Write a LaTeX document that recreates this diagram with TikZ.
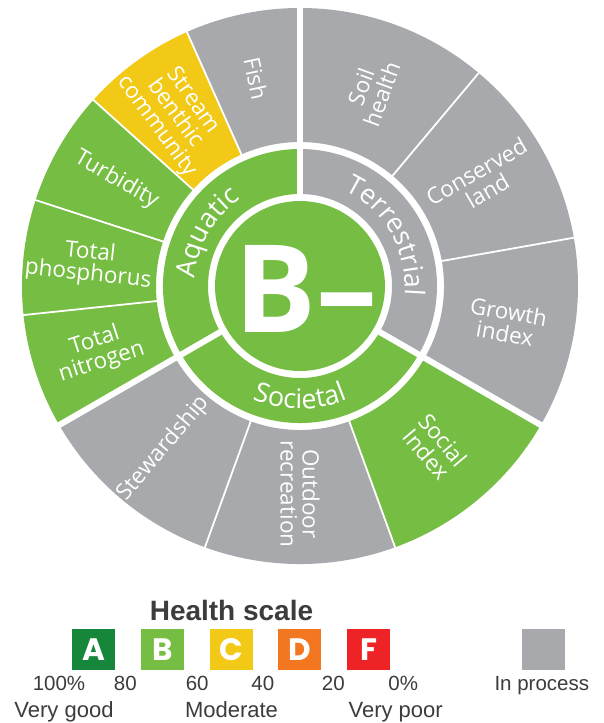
\documentclass[tikz,border=0pt]{standalone}
\usepackage{fontspec}
\usetikzlibrary{decorations.text}
\newfontfamily\wheelfont{Open Sans}
\newfontfamily\legendfont{Liberation Sans}
\newfontfamily\gradefont{Poppins}
\definecolor{leaf}{HTML}{76BE43}
\definecolor{stone}{HTML}{A7A9AC}
\definecolor{amber}{HTML}{F2C916}
\definecolor{forest}{HTML}{16873A}
\definecolor{ember}{HTML}{F37621}
\definecolor{alarm}{HTML}{EE2326}
\definecolor{ink}{HTML}{3C3C3C}
\newcommand{\ringpart}[5]{\fill[#1] (#2:#4) arc[start angle=#2,end angle=#3,radius=#4] -- (#3:#5) arc[start angle=#3,end angle=#2,radius=#5] -- cycle;}
\begin{document}
\begin{tikzpicture}[x=1pt,y=1pt,
    lbl/.style={text=white,font=\wheelfont\fontsize{22.5}{22}\selectfont,align=center,inner sep=0pt},
    gap/.style={white,line width=1.8pt},
    split/.style={white,line width=6pt},
    grade/.style={minimum width=43pt,minimum height=41pt,inner sep=0pt,text=white,font=\gradefont\bfseries\fontsize{31}{31}\selectfont},
    num/.style={text=ink,font=\legendfont\fontsize{20.5}{20.5}\selectfont,anchor=base,inner sep=0pt},
    word/.style={text=ink,font=\legendfont\fontsize{22}{22}\selectfont,anchor=base,inner sep=0pt}]
    \useasboundingbox (-300,-437) rectangle (303,286);
    \fill[white] (-300,-437) rectangle (303,286);
    \ringpart{stone}{90}{114}{144}{278}
    \ringpart{amber}{114}{138}{144}{278}
    \ringpart{leaf}{138}{210}{144}{278}
    \ringpart{stone}{-30}{90}{144}{278}
    \ringpart{stone}{-150}{-70}{144}{278}
    \ringpart{leaf}{-70}{-30}{144}{278}
    \ringpart{leaf}{90}{210}{92}{137}
    \ringpart{stone}{-30}{90}{92}{137}
    \ringpart{leaf}{-150}{-30}{92}{137}
    \fill[leaf] (0,0) circle[radius=85];
    \foreach \a in {114,138,162,186,50,10,-70,-110}
        \draw[gap] (\a:143) -- (\a:279);
    \foreach \a in {90,210,-30}
        \draw[split] (\a:88) -- (\a:280);
    \node[lbl,rotate=-78] (fish) at (102:212) {Fish};
    \node[lbl,rotate=-54] (benthic) at (126:213) {Stream\\benthic\\community};
    \node[lbl,rotate=-30] (turbidity) at (150:212) {Turbidity};
    \node[lbl,rotate=-6] (phosphorus) at (174:212) {Total\\phosphorus};
    \node[lbl,rotate=18] (nitrogen) at (198:212) {Total\\nitrogen};
    \node[lbl,rotate=70] (soil) at (70:208) {Soil\\health};
    \node[lbl,rotate=30] (conserved) at (30:210) {Conserved\\land};
    \node[lbl,rotate=-10] (growth) at (-10:210) {Growth\\index};
    \node[lbl,rotate=-50] (social) at (-50:210) {Social\\Index};
    \node[lbl,rotate=-90] (outdoor) at (-90:208) {Outdoor\\recreation};
    \node[lbl,rotate=50] (stewardship) at (-130:212) {Stewardship};
    \path[decorate,decoration={text along path,text align=center,
        text={|\wheelfont\fontsize{27}{27}\selectfont\color{white}|Aquatic}}]
        (200:105) arc[start angle=200,end angle=100,radius=105];
    \path[decorate,decoration={text along path,text align=center,
        text={|\wheelfont\fontsize{27}{27}\selectfont\color{white}|Terrestrial}}]
        (90:105) arc[start angle=90,end angle=-30,radius=105];
    \path[decorate,decoration={text along path,text align=center,
        text={|\wheelfont\fontsize{27}{27}\selectfont\color{white}|Societal}}]
        (-145:123) arc[start angle=-145,end angle=-35,radius=123];
    \node[text=white,font=\wheelfont\bfseries\fontsize{122}{122}\selectfont,inner sep=0pt] (mark) at (6,-3) {B–};
    \node[text=ink,font=\legendfont\bfseries\fontsize{28}{28}\selectfont,anchor=base,inner sep=0pt] (title) at (-68.5,-334) {Health scale};
    \foreach \g/\c [count=\i from 0] in {A/forest,B/leaf,C/amber,D/ember,F/alarm}
        \node[grade,fill=\c] (g\g) at (-206.4+68.8*\i,-363.5) {\g};
    \node[grade,fill=stone] (gI) at (243.7,-363.5) {};
    \foreach \t/\x [count=\i] in {100\%/-241,80/-174.7,60/-102.8,40/-37.2,20/33.3,0\%/103.3,In process/241.8}
        \node[num] (n\i) at (\x,-404.7) {\t};
    \node[word] (good) at (-236,-431.7) {Very good};
    \node[word] (moderate) at (-68.5,-431.7) {Moderate};
    \node[word] (poor) at (95.7,-431.7) {Very poor};
\end{tikzpicture}
\end{document}
